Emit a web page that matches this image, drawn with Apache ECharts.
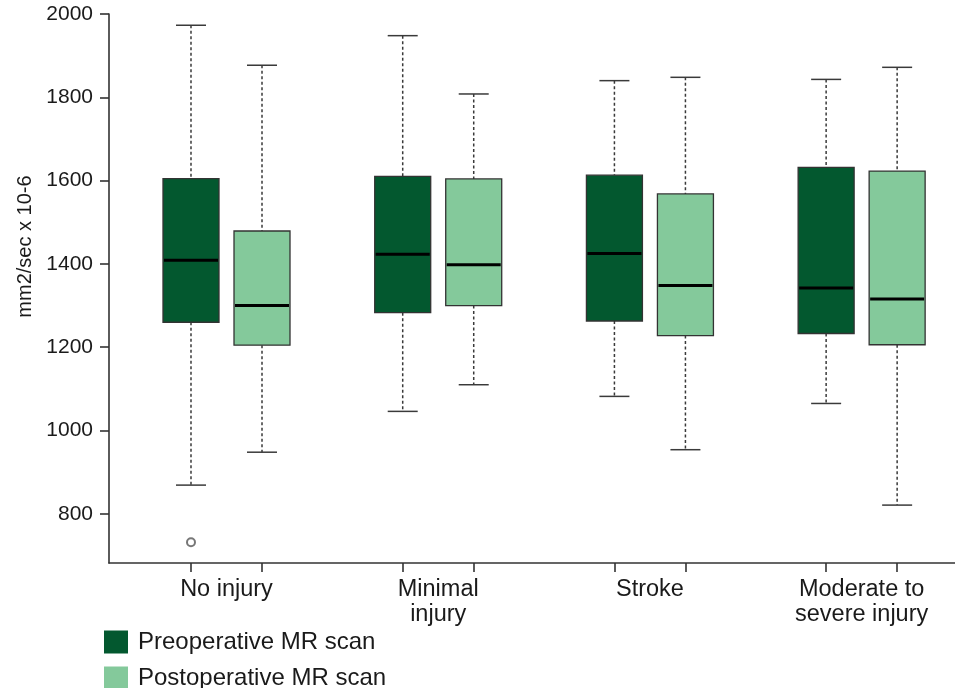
<!DOCTYPE html>
<html>
<head>
<meta charset="utf-8">
<script src="https://cdn.jsdelivr.net/npm/echarts@6/dist/echarts.min.js"></script>
<style>html,body{margin:0;padding:0;background:#fff}#c{width:955px;height:688px}</style>
</head>
<body>
<div id="c"></div>
<script>
// ---- data ----
const categories = ['No injury', 'Minimal\ninjury', 'Stroke', 'Moderate to\nsevere injury'];
const seriesNames = ['Preoperative MR scan', 'Postoperative MR scan'];
// [lower whisker, Q1, median, Q3, upper whisker]
const preStats = [
  [869, 1260, 1409, 1605, 1973],
  [1046, 1283, 1423, 1610, 1948],
  [1082, 1263, 1425, 1613, 1840],
  [1065, 1233, 1342, 1632, 1843]
];
const postStats = [
  [948, 1205, 1300, 1479, 1877],
  [1110, 1300, 1398, 1604, 1808],
  [954, 1228, 1348, 1568, 1848],
  [821, 1206, 1316, 1623, 1872]
];
// outliers: [category index, series index, value]
const outliers = [[0, 0, 732]];
const yTicks = [800, 1000, 1200, 1400, 1600, 1800, 2000];

// ---- layout / style ----
const FONT = 'Liberation Sans, Arial, Helvetica, sans-serif';
const OFF = 0.1677;      // box offset from category centre (axis units)
const BOXW = 0.2645;     // box width (axis units)
const CAPW = 0.1417;     // whisker cap width (axis units)
const colors = ['#03582F', '#84C99B'];

function pos(ci, si) { return ci + (si === 0 ? -OFF : OFF); }

function buildData(stats, si) {
  return stats.map((s, ci) => [pos(ci, si)].concat(s));
}

function renderBox(params, api) {
  const x = api.value(0);
  const lo = api.value(1), q1 = api.value(2), med = api.value(3), q3 = api.value(4), hi = api.value(5);
  const half = api.size([BOXW, 0])[0] / 2;
  const capHalf = api.size([CAPW, 0])[0] / 2;
  const pLo = api.coord([x, lo]), pQ1 = api.coord([x, q1]), pMed = api.coord([x, med]);
  const pQ3 = api.coord([x, q3]), pHi = api.coord([x, hi]);
  const cx = pLo[0];
  const fill = api.visual('color');
  const dash = { stroke: '#3a3a3a', lineWidth: 1.5, lineDash: [3, 2.5] };
  const solid = { stroke: '#3a3a3a', lineWidth: 1.5 };
  return {
    type: 'group',
    children: [
      { type: 'line', shape: { x1: cx, y1: pHi[1], x2: cx, y2: pQ3[1] }, style: dash },
      { type: 'line', shape: { x1: cx, y1: pQ1[1], x2: cx, y2: pLo[1] }, style: dash },
      { type: 'line', shape: { x1: cx - capHalf, y1: pHi[1], x2: cx + capHalf, y2: pHi[1] }, style: solid },
      { type: 'line', shape: { x1: cx - capHalf, y1: pLo[1], x2: cx + capHalf, y2: pLo[1] }, style: solid },
      { type: 'rect', shape: { x: cx - half, y: pQ3[1], width: half * 2, height: pQ1[1] - pQ3[1] },
        style: { fill: fill, stroke: '#333', lineWidth: 1.3 } },
      { type: 'line', shape: { x1: cx - half + 1, y1: pMed[1], x2: cx + half - 1, y2: pMed[1] },
        style: { stroke: '#000', lineWidth: 3 } }
    ]
  };
}

const tickPositions = [];
categories.forEach((c, ci) => { tickPositions.push(pos(ci, 0), pos(ci, 1)); });

const chart = echarts.init(document.getElementById('c'), null, { renderer: 'canvas' });
chart.setOption({
  animation: false,
  backgroundColor: '#fff',
  textStyle: { fontFamily: FONT },
  grid: { left: 109, right: 0, top: 14, bottom: 125, containLabel: false },
  legend: {
    data: seriesNames,
    orient: 'vertical',
    left: 104,
    top: 630,
    height: 80,
    padding: 0,
    itemGap: 12,
    itemWidth: 24,
    itemHeight: 23,
    icon: 'rect',
    selectedMode: false,
    textStyle: { fontFamily: FONT, fontSize: 24, lineHeight: 23, color: '#1a1a1a', padding: [0, 0, 0, 5] }
  },
  xAxis: {
    type: 'value',
    min: -0.555,
    max: 3.441,
    splitLine: { show: false },
    axisLine: { show: true, onZero: false, lineStyle: { color: '#333', width: 1.6 } },
    axisTick: { show: true, customValues: tickPositions, length: 9, lineStyle: { color: '#333', width: 1.6 } },
    axisLabel: {
      customValues: [0, 1, 2, 3],
      formatter: v => categories[Math.round(v)],
      margin: 14,
      fontSize: 23.5,
      lineHeight: 25,
      color: '#1a1a1a',
      fontFamily: FONT
    }
  },
  yAxis: {
    type: 'value',
    min: 682,
    max: 2000,
    name: 'mm2/sec x 10-6',
    nameLocation: 'middle',
    nameGap: 60,
    nameRotate: 90,
    nameTextStyle: { fontSize: 20, color: '#1a1a1a', fontFamily: FONT, padding: [0, 0, 0, 84] },
    splitLine: { show: false },
    axisLine: { show: true, onZero: false, lineStyle: { color: '#333', width: 1.6 } },
    axisTick: { show: true, customValues: yTicks, length: 9, lineStyle: { color: '#333', width: 1.6 } },
    axisLabel: { customValues: yTicks, formatter: v => String(v), margin: 16, fontSize: 21, color: '#1a1a1a', fontFamily: FONT }
  },
  series: [
    {
      name: seriesNames[0], type: 'custom', renderItem: renderBox,
      itemStyle: { color: colors[0] },
      encode: { x: 0, y: [1, 2, 3, 4, 5] },
      data: buildData(preStats, 0)
    },
    {
      name: seriesNames[1], type: 'custom', renderItem: renderBox,
      itemStyle: { color: colors[1] },
      encode: { x: 0, y: [1, 2, 3, 4, 5] },
      data: buildData(postStats, 1)
    },
    {
      name: 'outliers', type: 'scatter',
      symbol: 'emptyCircle', symbolSize: 8,
      itemStyle: { color: '#555', borderColor: '#555', borderWidth: 1.5 },
      data: outliers.map(o => [pos(o[0], o[1]), o[2]])
    }
  ]
});
</script>
</body>
</html>
